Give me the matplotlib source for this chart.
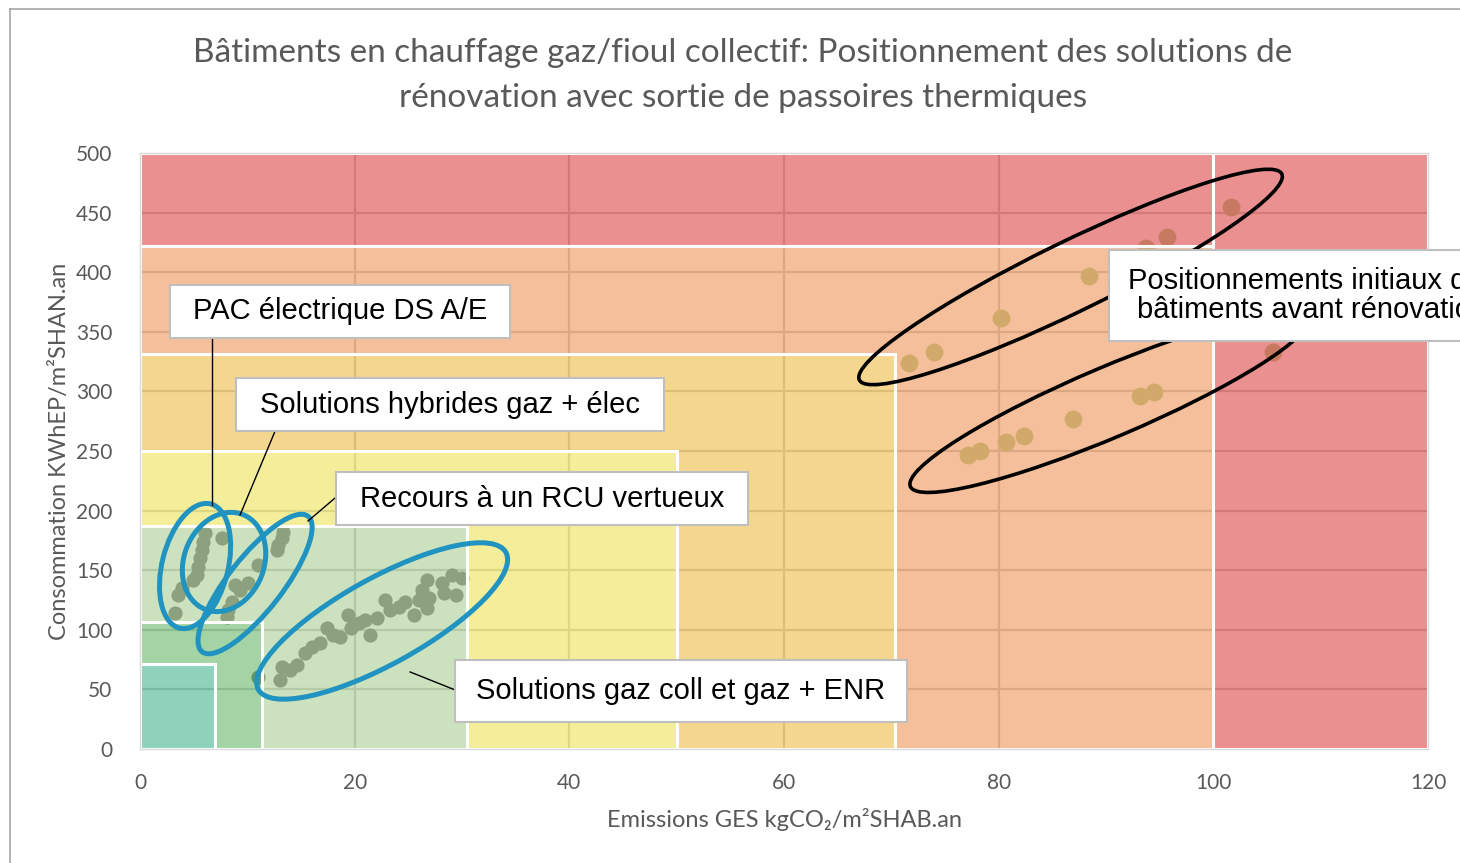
import matplotlib
matplotlib.use('Agg')
import matplotlib.pyplot as plt
from matplotlib.patches import Rectangle, Polygon, Ellipse
from matplotlib.transforms import ScaledTranslation
from matplotlib.lines import Line2D

# ---------------- data ----------------
x_ticks = [0, 20, 40, 60, 80, 100, 120]
y_ticks = [0, 50, 100, 150, 200, 250, 300, 350, 400, 450, 500]

# DPE zones: max GES, max conso, observed colour
zone_names = ['A', 'B', 'C', 'D', 'E', 'F', 'G']
zone_xmax = [7, 11.4, 30.5, 50, 70.3, 100, 120]
zone_ymax = [71, 106.5, 187, 250, 331, 422, 500]
zone_colors = ['#8fd3bc', '#a5d5a6', '#cde3bf', '#f5ef9b', '#f5d78f', '#f5c09b', '#ec9191']

# renovation solutions (grey points)
pac_x = [6.06, 5.9, 5.75, 5.6, 5.44, 5.28, 4.97, 3.9, 3.57, 3.26, 7.6]
pac_y = [181, 174, 167, 160, 153, 146, 141.8, 134.8, 129, 113.8, 176.8]
hyb_x = [11.0, 8.86, 10.1, 9.3, 8.55, 8.23, 8.08]
hyb_y = [154.4, 137.6, 139, 133.4, 123.6, 116.6, 111]
rcu_x = [13.36, 13.2, 12.9, 12.74]
rcu_y = [182.3, 176.8, 171, 167]
gaz_x = [11.03, 13.2, 13.05, 14.0, 14.6, 15.4, 16.0, 16.8, 17.4, 18.0, 18.6, 19.4, 19.7,
         20.4, 21.0, 21.4, 22.1, 22.8, 23.3, 24.1, 24.7, 25.5, 25.95, 26.3, 26.7, 26.9,
         26.7, 28.1, 28.3, 29.1, 29.4, 30.0]
gaz_y = [60.7, 69, 57.9, 66.3, 70.5, 80.3, 85.9, 88.7, 101.2, 95.6, 94.2, 112.4, 101.2,
         105.5, 108.2, 95.6, 109.6, 125, 116.6, 119.4, 123.6, 112.4, 125, 133.4, 141.8, 126.4,
         118, 139, 130.6, 146, 129.2, 143.2]

# initial positions before renovation
init_x = [71.6, 74.0, 80.2, 88.4, 93.7, 95.7, 101.6, 105.6, 86.9, 93.2, 94.5, 82.4, 80.7, 78.3, 77.1]
init_y = [323.5, 333.3, 361.3, 396.8, 420, 429.8, 455, 332.8, 276.6, 296, 299.8, 262.6, 257.8, 250.3, 246.6]

# annotation texts
label_pac = 'PAC électrique DS A/E'
label_hyb = 'Solutions hybrides gaz + élec'
label_rcu = 'Recours à un RCU vertueux'
label_gaz = 'Solutions gaz coll et gaz + ENR'
label_init = 'Positionnements initiaux des\nbâtiments avant rénovation'

title_l1 = 'Bâtiments en chauffage gaz/fioul collectif: Positionnement des solutions de'
title_l2 = 'rénovation avec sortie de passoires thermiques'
xlabel = 'Emissions GES kgCO₂/m²SHAB.an'
ylabel = 'Consommation KWhEP/m²SHAN.an'

# ---------------- figure ----------------
W, H = 1460, 863
fig = plt.figure(figsize=(W / 100, H / 100), dpi=100)
fig.patch.set_facecolor('white')
ax = fig.add_axes([140 / W, 114 / H, 1288 / W, 596 / H])
ax.set_xlim(0, 120)
ax.set_ylim(0, 500)

grey_txt = '#595959'
tfont = ['Lato', 'DejaVu Sans']

# gridlines (under the translucent zones)
for xv in x_ticks[1:-1]:
    ax.axvline(xv, color='#cfcfcf', lw=1.6, zorder=1)
for yv in y_ticks[1:-1]:
    ax.axhline(yv, color='#cfcfcf', lw=1.6, zorder=1)

# points (under translucent zones)
ax.scatter(pac_x + hyb_x + rcu_x + gaz_x, pac_y + hyb_y + rcu_y + gaz_y,
           s=105, color='#7d7d7d', lw=0, zorder=2)
ax.scatter(init_x, init_y, s=165, color='#b5d3a0', lw=0, zorder=2)

# zones, translucent, with white gaps
def to_face(hexcol, a=0.5):
    r, g, b = [int(hexcol[i:i + 2], 16) / 255 for i in (1, 3, 5)]
    f = lambda c: min(1, max(0, (c - (1 - a)) / a))
    return (f(r), f(g), f(b), a)

for i in range(len(zone_names)):
    xm, ym = zone_xmax[i], zone_ymax[i]
    fc = to_face(zone_colors[i])
    if i == 0:
        patches = [Rectangle((0, 0), xm, ym)]
    elif zone_names[i] == 'G':
        px, py = zone_xmax[i - 1], zone_ymax[i - 1]
        patches = [Rectangle((0, py), px, ym - py), Rectangle((px, 0), xm - px, ym)]
    else:
        px, py = zone_xmax[i - 1], zone_ymax[i - 1]
        patches = [Polygon([(px, 0), (xm, 0), (xm, ym), (0, ym), (0, py), (px, py)], closed=True)]
    for p in patches:
        p.set_facecolor(fc)
        p.set_edgecolor((1, 1, 1, 1))
        p.set_linewidth(2.2)
        p.set_zorder(3)
        ax.add_patch(p)

# ellipses (centre in data coords, size in pixels, angle in degrees)
def ell(cx, cy, wpx, hpx, ang, color, lw):
    tr = fig.dpi_scale_trans + ScaledTranslation(cx, cy, ax.transData)
    e = Ellipse((0, 0), wpx / 100, hpx / 100, angle=ang, transform=tr,
                fill=False, ec=color, lw=lw, zorder=5, clip_on=False)
    ax.add_patch(e)

blue = '#2093c0'
ell(5.13, 153.5, 128, 66, 76, blue, 3.6)
ell(7.83, 156.9, 102, 80, 68, blue, 3.6)
ell(10.72, 138.4, 172, 54, 52, blue, 3.6)
ell(22.56, 107.4, 283, 86, 29, blue, 3.6)
ell(86.7, 396.0, 470, 70, 26, 'black', 2.6)
ell(90.3, 291.0, 432, 70, 23, 'black', 2.6)

# leader lines
def leader(x0, y0, x1, y1):
    ax.add_line(Line2D([x0, x1], [y0, y1], color='black', lw=1, zorder=6, clip_on=False))

leader(6.71, 344.8, 6.71, 204.7)
leader(12.59, 266.8, 9.32, 196.3)
leader(18.28, 211.4, 15.66, 191.3)
leader(29.37, 49.5, 25.17, 64.6)

# label boxes
def box(x0, x1, y0, y1, text, xt=None):
    r = Rectangle((x0, y0), x1 - x0, y1 - y0, fc='white', ec='#bfbfbf', lw=1.5,
                  zorder=7, clip_on=False)
    ax.add_patch(r)
    ax.text((x0 + x1) / 2 if xt is None else xt, (y0 + y1) / 2, text, ha='center', va='center',
            fontsize=21, family=['Liberation Sans', 'DejaVu Sans'], color='black',
            zorder=8, clip_on=False, linespacing=1.05)

box(2.8, 34.5, 344.8, 389.3, label_pac)
box(8.95, 48.86, 266.8, 311.2, label_hyb)
box(18.28, 56.6, 187.9, 232.4, label_rcu)
box(29.37, 71.42, 22.65, 74.66, label_gaz)
box(90.26, 128.0, 342.3, 418.6, label_init, xt=109.2)

# axes styling
ax.set_xticks(x_ticks)
ax.set_yticks(y_ticks)
ax.tick_params(length=0, labelsize=15, labelcolor=grey_txt)
ax.tick_params(axis='x', pad=17)
ax.tick_params(axis='y', pad=20)
for lab in ax.get_xticklabels() + ax.get_yticklabels():
    lab.set_family(tfont)
for s in ax.spines.values():
    s.set_color('#d9d9d9')
    s.set_linewidth(1)
    s.set_zorder(4)

ax.set_xlabel(xlabel, fontsize=17, color=grey_txt, family=tfont, labelpad=11)
ax.set_ylabel(ylabel, fontsize=17, color=grey_txt, family=tfont, labelpad=4)

fig.text(743 / W, 1 - 53 / H, title_l1, ha='center', va='center', fontsize=24,
         color=grey_txt, family=tfont)
fig.text(743 / W, 1 - 98 / H, title_l2, ha='center', va='center', fontsize=24,
         color=grey_txt, family=tfont)

# chart-area border (top and left)
fig.add_artist(Line2D([10 / W, 1.0], [1 - 9 / H, 1 - 9 / H], transform=fig.transFigure,
                      color='#a6a6a6', lw=1.2))
fig.add_artist(Line2D([10 / W, 10 / W], [0, 1 - 9 / H], transform=fig.transFigure,
                      color='#a6a6a6', lw=1.2))

fig.savefig('out.png', dpi=100)
